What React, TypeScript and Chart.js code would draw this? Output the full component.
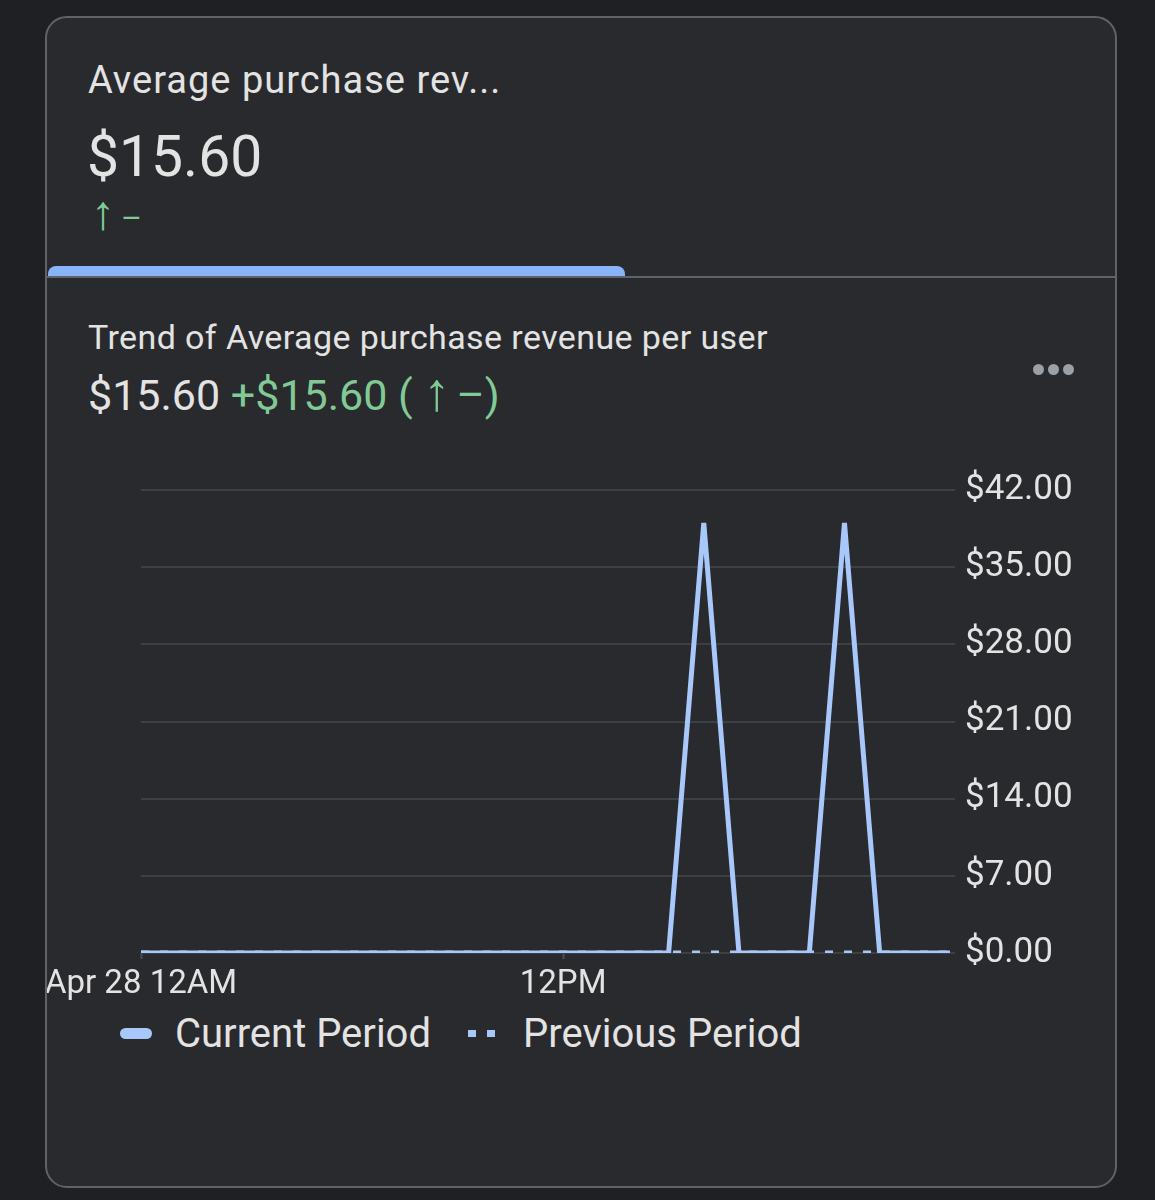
import React, { useEffect, useRef } from "react";
import { Chart, registerables } from "chart.js";

Chart.register(...registerables);

// ---- data ----
const hours = [
  "12AM", "1AM", "2AM", "3AM", "4AM", "5AM", "6AM", "7AM", "8AM", "9AM", "10AM", "11AM",
  "12PM", "1PM", "2PM", "3PM", "4PM", "5PM", "6PM", "7PM", "8PM", "9PM", "10PM", "11PM",
];
const currentPeriod = [0, 0, 0, 0, 0, 0, 0, 0, 0, 0, 0, 0, 0, 0, 0, 0, 39, 0, 0, 0, 39, 0, 0, 0];
const previousPeriod = [0, 0, 0, 0, 0, 0, 0, 0, 0, 0, 0, 0, 0, 0, 0, 0, 0, 0, 0, 0, 0, 0, 0, 0];
const xTickLabels: Record<number, string> = { 0: "Apr 28 12AM", 12: "12PM" };
const yMin = 0;
const yMax = 42;
const yStep = 7;

const FONT = "Roboto, 'Noto Sans', sans-serif";
const LINE = "#a8c7fa";
const TEXT = "#e3e3e3";
const GREEN = "#81c995";

export default function App() {
  const canvasRef = useRef<HTMLCanvasElement | null>(null);

  useEffect(() => {
    const canvas = canvasRef.current;
    if (!canvas) return;
    const chart = new Chart(canvas, {
      type: "line",
      data: {
        labels: hours,
        datasets: [
          {
            label: "Current Period",
            data: currentPeriod,
            borderColor: LINE,
            borderWidth: 5,
            pointRadius: 0,
            tension: 0,
            order: 0,
          },
          {
            label: "Previous Period",
            data: previousPeriod,
            borderColor: LINE,
            borderWidth: 5,
            borderDash: [8, 11],
            pointRadius: 0,
            tension: 0,
            order: 1,
          },
        ],
      },
      options: {
        animation: false,
        responsive: false,
        maintainAspectRatio: false,
        layout: { padding: { left: 141, top: 50, right: 0, bottom: 0 } },
        plugins: { legend: { display: false }, tooltip: { enabled: false } },
        scales: {
          x: {
            type: "category",
            offset: false,
            border: { display: false },
            grid: {
              drawOnChartArea: false,
              drawTicks: true,
              tickLength: 6,
              tickWidth: 2,
              tickColor: (ctx: any) => (xTickLabels[ctx.index] !== undefined ? "#4a4d52" : "rgba(0,0,0,0)"),
              color: "rgba(0,0,0,0)",
            },
            ticks: {
              autoSkip: false,
              maxRotation: 0,
              minRotation: 0,
              padding: 6,
              color: TEXT,
              font: { family: FONT, size: 33 },
              callback: (_v: any, idx: number) => xTickLabels[idx] ?? "",
            },
            afterFit: (s: any) => {
              s.height = 52;
            },
          },
          y: {
            position: "right",
            min: yMin,
            max: yMax,
            border: { display: false },
            grid: { color: "#3c4043", lineWidth: 2, tickLength: 5 },
            ticks: {
              stepSize: yStep,
              padding: 10,
              color: TEXT,
              font: { family: FONT, size: 35 },
              callback: (v: any) => "$" + Number(v).toFixed(2),
            },
            afterFit: (s: any) => {
              s.width = 165;
            },
          },
        },
      },
    });
    return () => chart.destroy();
  }, []);

  const abs = (l: number, t: number, extra: React.CSSProperties = {}): React.CSSProperties => ({
    position: "absolute",
    left: l,
    top: t,
    lineHeight: 1,
    whiteSpace: "nowrap",
    ...extra,
  });

  const arrow = (size: number, mr: number) => (
    <span style={{ fontSize: size, lineHeight: 0, fontWeight: 300, marginRight: mr }}>↑</span>
  );

  return (
    <div
      style={{
        position: "absolute",
        left: 0,
        top: 0,
        width: 1155,
        height: 1200,
        background: "#1f2023",
        fontFamily: FONT,
        overflow: "hidden",
      }}
    >
      <div
        style={{
          position: "absolute",
          left: 45,
          top: 16,
          width: 1068,
          height: 1168,
          border: "2px solid #5f6368",
          borderRadius: 22,
          background: "#292a2d",
          overflow: "hidden",
        }}
      >
        <div style={abs(41, 43, { fontSize: 38, letterSpacing: 1, color: TEXT })}>Average purchase rev...</div>
        <div style={abs(40, 110, { fontSize: 57, color: TEXT })}>$15.60</div>
        <div style={abs(44, 184, { fontSize: 32, color: GREEN })}>
          {arrow(48, 6)}–
        </div>

        <div style={{ position: "absolute", left: 1, top: 248, width: 577, height: 10, background: "#8ab4f8", borderRadius: "8px 8px 0 0" }} />
        <div style={{ position: "absolute", left: 0, top: 258, width: 1068, height: 2, background: "#5f6368" }} />

        <div style={abs(41, 302, { fontSize: 34, letterSpacing: 0.4, color: TEXT })}>Trend of Average purchase revenue per user</div>
        <div style={abs(41, 356, { fontSize: 43, color: TEXT })}>
          $15.60 <span style={{ color: GREEN }}>+$15.60 ( {arrow(54, 6)}–)</span>
        </div>

        {[0, 1, 2].map((i) => (
          <div
            key={i}
            style={{
              position: "absolute",
              left: 986 + i * 15,
              top: 346,
              width: 11,
              height: 11,
              borderRadius: "50%",
              background: "#9aa0a6",
            }}
          />
        ))}

        <canvas
          ref={canvasRef}
          width={1115}
          height={565}
          style={{ position: "absolute", left: -47, top: 422, width: 1115, height: 565 }}
        />

        {/* legend */}
        <div style={{ position: "absolute", left: 73, top: 1010, width: 32, height: 11, borderRadius: 6, background: LINE }} />
        <div style={abs(128, 996, { fontSize: 40, color: TEXT })}>Current Period</div>
        <div style={{ position: "absolute", left: 421, top: 1012, width: 8, height: 7, background: LINE }} />
        <div style={{ position: "absolute", left: 440, top: 1012, width: 8, height: 7, background: LINE }} />
        <div style={abs(476, 996, { fontSize: 40, color: TEXT })}>Previous Period</div>
      </div>
    </div>
  );
}
